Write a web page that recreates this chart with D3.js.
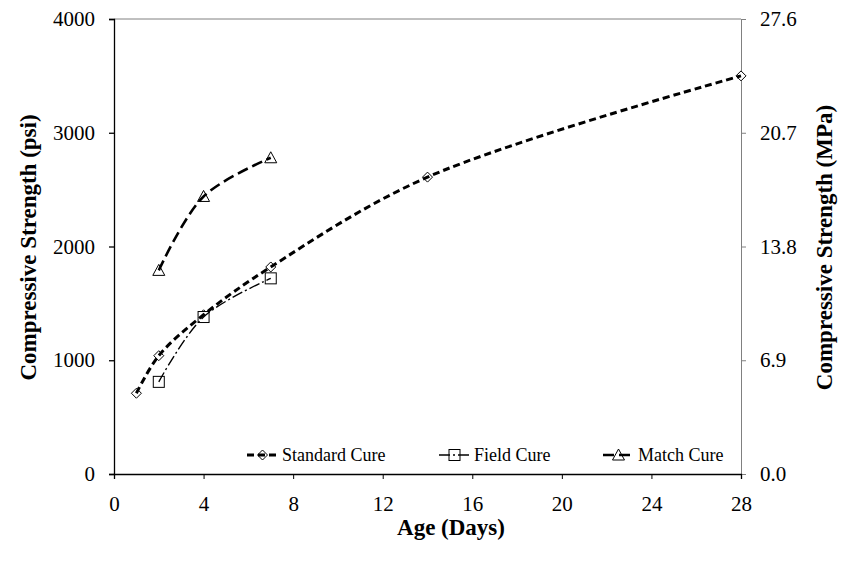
<!DOCTYPE html>
<html>
<head>
<meta charset="utf-8">
<script src="https://cdn.jsdelivr.net/npm/d3@7"></script>
<style>
  body { margin: 0; background: #fff; }
</style>
</head>
<body>
<svg id="chart" width="841" height="565"></svg>
<script>
// donnees : age (jours) et resistance (psi)
const standardAge = [1, 2, 4, 7, 14, 28];
const standardPsi = [710, 1040, 1400, 1820, 2610, 3500];
const fieldAge = [2, 4, 7];
const fieldPsi = [810, 1380, 1720];
const matchAge = [2, 4, 7];
const matchPsi = [1790, 2440, 2780];

const xTicks = [0, 4, 8, 12, 16, 20, 24, 28];
const psiTicks = [0, 1000, 2000, 3000, 4000];
const mpaLabels = ["0.0", "6.9", "13.8", "20.7", "27.6"];

const seriesNames = ["Standard Cure", "Field Cure", "Match Cure"];

const police = '"Liberation Serif", "Times New Roman", serif';
const svg = d3.select("#chart");
const L = 114, R = 741, T = 19, B = 474;

const x = d3.scaleLinear().domain([0, 28]).range([L, R]);
const y = d3.scaleLinear().domain([0, 4000]).range([B, T]);

// cadre gris en haut
svg.append("line").attr("x1", L).attr("x2", R).attr("y1", T).attr("y2", T)
  .attr("stroke", "#808080").attr("stroke-width", 1);

// axe gauche (psi)
const gy = svg.append("g").attr("transform", `translate(${L},0)`)
  .call(d3.axisLeft(y).tickValues(psiTicks).tickSize(5).tickPadding(14).tickFormat(d3.format("d")));
gy.select(".domain").attr("stroke", "#000").attr("stroke-width", 1.3);
gy.selectAll(".tick line").attr("stroke", "#000").attr("stroke-width", 1.3);

// axe droit (MPa), meme graduation que psi
const gr = svg.append("g").attr("transform", `translate(${R},0)`)
  .call(d3.axisRight(y).tickValues(psiTicks).tickSize(5).tickPadding(14)
    .tickFormat((d, i) => mpaLabels[i]));
gr.select(".domain").attr("stroke", "#808080");
gr.selectAll(".tick line").attr("stroke", "#808080");

// axe x
const gx = svg.append("g").attr("transform", `translate(0,${B})`)
  .call(d3.axisBottom(x).tickValues(xTicks).tickSize(5).tickPadding(17));
gx.select(".domain").attr("stroke", "#000").attr("stroke-width", 1.3);
gx.selectAll(".tick line").attr("stroke", "#000");

[gy, gr, gx].forEach(g => g.selectAll("text")
  .style("font-family", police).style("font-size", "21px").attr("fill", "#000"));

// titres des axes
function titre(t, tr) {
  return svg.append("text").attr("transform", tr).attr("text-anchor", "middle")
    .style("font-family", police).style("font-weight", "bold").style("font-size", "23px")
    .attr("fill", "#000").text(t);
}
titre("Age (Days)", "translate(451,535)");
titre("Compressive Strength (psi)", `translate(36,${(T + B) / 2 + 1}) rotate(-90)`);
titre("Compressive Strength (MPa)", `translate(832,${(T + B) / 2 + 1}) rotate(-90)`);

const styles = [
  { dash: "7,4", w: 3, mark: "diamond" },
  { dash: "11,3,2,3", w: 1.4, mark: "square" },
  { dash: "11,5", w: 2.6, mark: "triangle" }
];

const donnees = [
  standardAge.map((a, i) => [a, standardPsi[i]]),
  fieldAge.map((a, i) => [a, fieldPsi[i]]),
  matchAge.map((a, i) => [a, matchPsi[i]])
];

const ligne = d3.line().x(d => x(d[0])).y(d => y(d[1])).curve(d3.curveCatmullRom.alpha(0.5));

function marqueur(g, type, cx, cy) {
  if (type == "diamond") {
    g.append("path").attr("d", `M${cx},${cy - 5}L${cx + 5},${cy}L${cx},${cy + 5}L${cx - 5},${cy}Z`)
      .attr("fill", "#fff").attr("stroke", "#000").attr("stroke-width", 1);
  } else if (type == "square") {
    g.append("rect").attr("x", cx - 5.5).attr("y", cy - 5.5).attr("width", 11).attr("height", 11)
      .attr("fill", "#fff").attr("stroke", "#000").attr("stroke-width", 1);
  } else {
    g.append("path").attr("d", `M${cx},${cy - 6}L${cx + 6},${cy + 5}L${cx - 6},${cy + 5}Z`)
      .attr("fill", "#fff").attr("stroke", "#000").attr("stroke-width", 1);
  }
}

donnees.forEach((d, i) => {
  const g = svg.append("g");
  d.forEach(p => marqueur(g, styles[i].mark, x(p[0]), y(p[1])));
});

// le trait passe au dessus des marqueurs blancs
donnees.forEach((d, i) => {
  svg.append("path").attr("d", ligne(d)).attr("fill", "none").attr("stroke", "#000")
    .attr("stroke-width", styles[i].w).attr("stroke-dasharray", styles[i].dash);
});

// legende
const legX = [247, 439, 603];
const legY = 455;
seriesNames.forEach((nom, i) => {
  const g = svg.append("g");
  marqueur(g, styles[i].mark, legX[i] + 15.5, legY);
  g.append("line").attr("x1", legX[i]).attr("x2", legX[i] + 31).attr("y1", legY).attr("y2", legY)
    .attr("stroke", "#000").attr("stroke-width", styles[i].w).attr("stroke-dasharray", styles[i].dash);
  g.append("text").attr("x", legX[i] + 35).attr("y", legY + 6)
    .style("font-family", police).style("font-size", "18px").attr("fill", "#000").text(nom);
});
</script>
</body>
</html>
